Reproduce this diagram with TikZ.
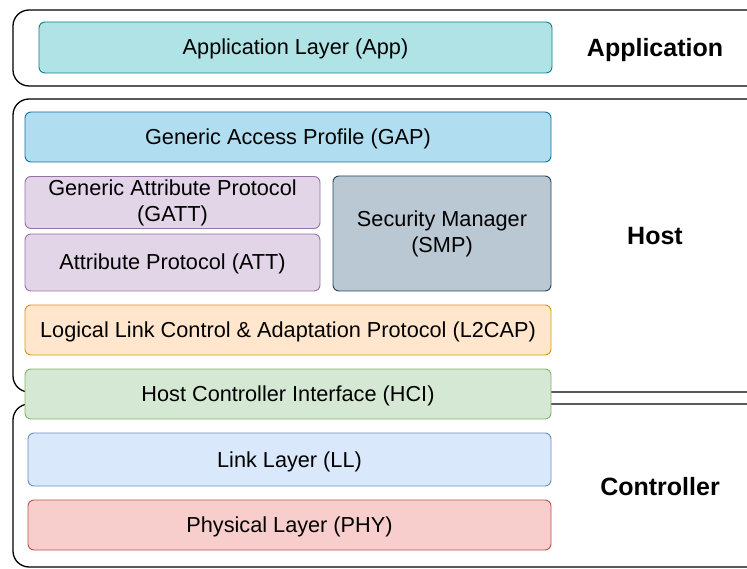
\documentclass[tikz,border=0pt]{standalone}
\usepackage{fontspec}
\setmainfont{Liberation Sans}
\usepackage{xcolor}
\usepackage{tikz}

\definecolor{appfill}{HTML}{B0E3E6}
\definecolor{appline}{HTML}{0E8088}
\definecolor{gapfill}{HTML}{B1DDF0}
\definecolor{gapline}{HTML}{10739E}
\definecolor{attfill}{HTML}{E1D5E7}
\definecolor{attline}{HTML}{9673A6}
\definecolor{smpfill}{HTML}{BAC8D3}
\definecolor{smpline}{HTML}{23445D}
\definecolor{capfill}{HTML}{FFE6CC}
\definecolor{capline}{HTML}{D79B00}
\definecolor{hcifill}{HTML}{D5E8D4}
\definecolor{hciline}{HTML}{82B366}
\definecolor{llfill}{HTML}{DAE8FC}
\definecolor{llline}{HTML}{6C8EBF}
\definecolor{phyfill}{HTML}{F8CECC}
\definecolor{phyline}{HTML}{B85450}

\begin{document}
\begin{tikzpicture}[x=1pt,y=-1pt,
    layer/.style={draw, rounded corners=6pt, line width=0.9pt, inner sep=0pt,
        align=center, font=\fontsize{21.7}{26}\selectfont},
    oneline/.style={layer, text height=19.5pt, text depth=4.5pt},
    stack/.style={draw, rounded corners=16pt, line width=1.3pt},
    side/.style={anchor=base, font=\fontsize{25}{30}\selectfont\bfseries}]
    \useasboundingbox (0,0) rectangle (747,569);
    \clip (0,0) rectangle (747,569);

    % the three stacks, open to the right
    \draw[stack] (13,10) rectangle (790,86);
    \draw[stack] (13,99) rectangle (790,392);
    \draw[stack] (13,404) rectangle (790,567);

    % application
    \node[oneline, fill=appfill, draw=appline, minimum width=513pt, minimum height=51pt]
        (app) at (295.5,47.5) {Application Layer (App)};
    \node[side] (lblapp) at (655,57) {Application};

    % host
    \node[oneline, fill=gapfill, draw=gapline, minimum width=526pt, minimum height=50pt]
        (gap) at (288,137) {Generic Access Profile (GAP)};
    \node[layer, fill=attfill, draw=attline, minimum width=295pt, minimum height=52pt]
        (gatt) at (172.5,202.5) {Generic Attribute Protocol\\(GATT)};
    \node[oneline, fill=attfill, draw=attline, minimum width=295pt, minimum height=57pt]
        (att) at (172.5,262.5) {Attribute Protocol (ATT)};
    \node[layer, fill=smpfill, draw=smpline, minimum width=218pt, minimum height=115pt]
        (smp) at (442,233.5) {Security Manager\\(SMP)};
    \node[oneline, fill=capfill, draw=capline, minimum width=526pt, minimum height=50pt]
        (l2cap) at (288,330) {Logical Link Control \& Adaptation Protocol (L2CAP)};
    \node[side] (lblhost) at (655,245) {Host};

    % interface sits over both stacks
    \node[oneline, fill=hcifill, draw=hciline, minimum width=526pt, minimum height=50pt]
        (hci) at (288,394) {Host Controller Interface (HCI)};

    % controller
    \node[oneline, fill=llfill, draw=llline, minimum width=523pt, minimum height=53pt]
        (ll) at (289.5,459.5) {Link Layer (LL)};
    \node[oneline, fill=phyfill, draw=phyline, minimum width=523pt, minimum height=50pt]
        (phy) at (289.5,525) {Physical Layer (PHY)};
    \node[side] (lblctrl) at (660,495) {Controller};
\end{tikzpicture}
\end{document}
